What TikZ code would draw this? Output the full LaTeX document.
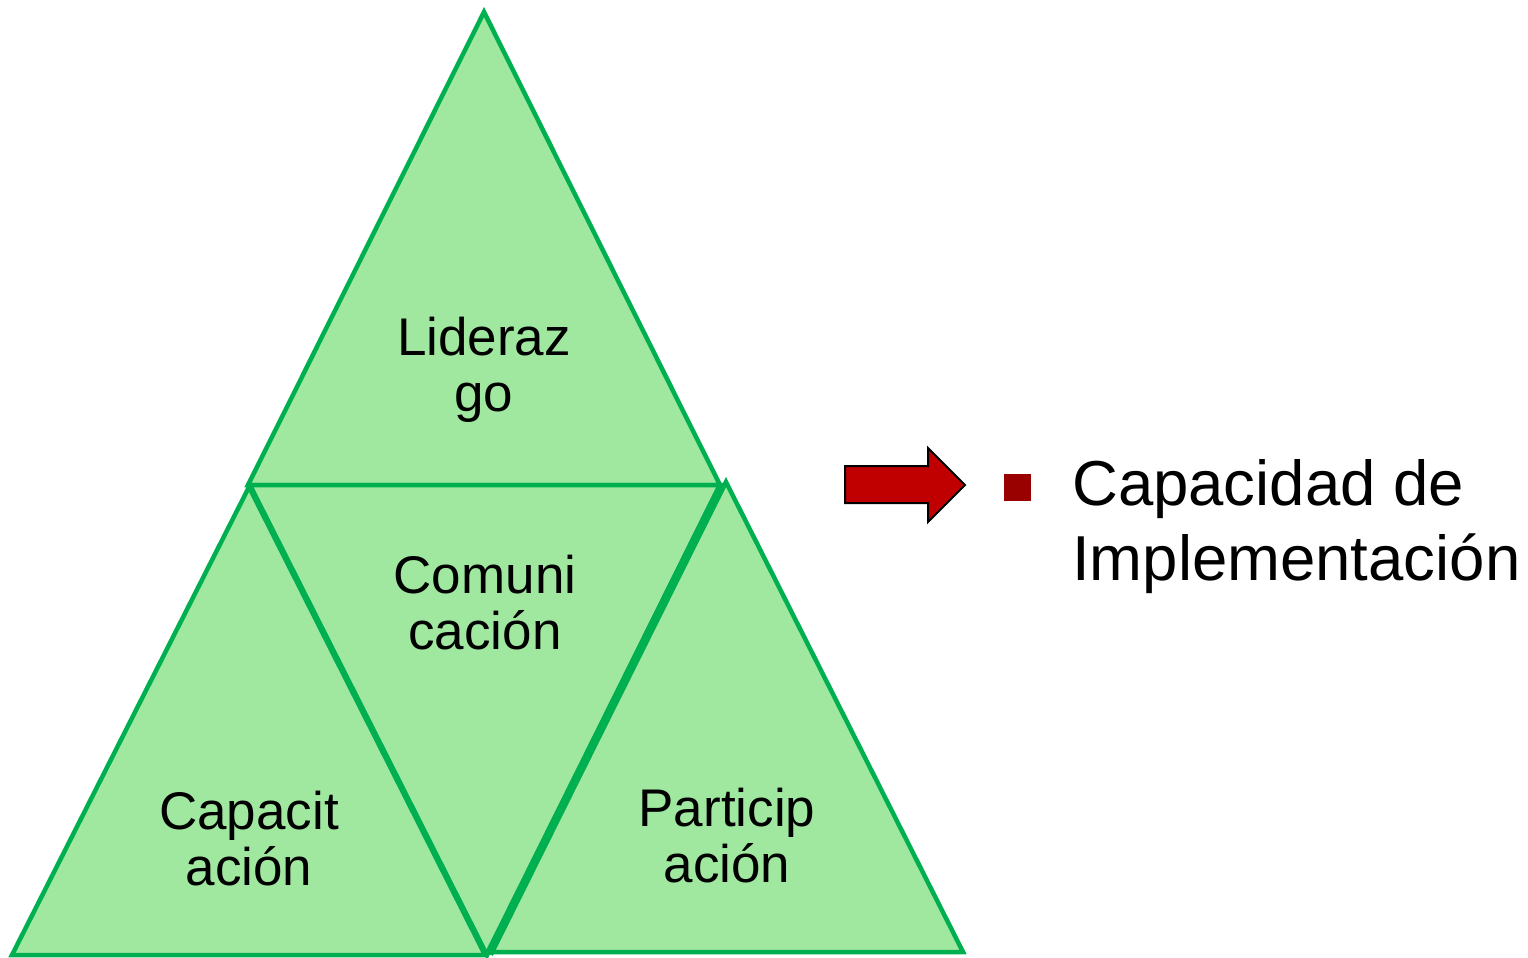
\documentclass[tikz,border=0pt]{standalone}
\usepackage{fontspec}
\setmainfont{Liberation Sans}
\definecolor{trifill}{HTML}{A0E8A0}
\definecolor{tridraw}{HTML}{00B050}
\definecolor{arrred}{HTML}{C00000}
\definecolor{bulred}{HTML}{990000}
\begin{document}
\begin{tikzpicture}[x=1pt,y=-1pt,
  tri/.style={fill=trifill,draw=tridraw,line width=4.5pt,line join=miter},
  lbl/.style={align=center,font=\fontsize{53}{56}\selectfont,inner sep=0pt},
  big/.style={align=left,font=\fontsize{63.5}{75}\selectfont,inner sep=0pt,anchor=base west}]
\useasboundingbox (0,0) rectangle (1528,958);
% triangles
\draw[tri] (484,12) -- (720,485) -- (248,485) -- cycle;
\draw[tri] (249,487) -- (485,955) -- (12,955) -- cycle;
\draw[tri] (250,485) -- (720,485) -- (487,955) -- cycle;
\draw[tri] (726,482) -- (963,952) -- (491,952) -- cycle;
\coordinate (s1) at (722,485);
\coordinate (s2) at (489,954);
\draw[draw=tridraw,line width=8.5pt] (s1) -- (s2);
% labels
\node[lbl] (lid) at (484,370) {Lideraz\\go};
\node[lbl] (com) at (485,603) {Comuni\\cación};
\node[lbl] (cap) at (249,839) {Capacit\\ación};
\node[lbl] (par) at (727,836) {Particip\\ación};
% block arrow
\draw[fill=arrred,draw=black,line width=2pt,line join=miter]
  (845,466) -- (928,466) -- (928,448) -- (965,485) -- (928,522) -- (928,503) -- (845,503) -- cycle;
% bullet
\fill[bulred] (1004,474) rectangle (1031,501);
\node[big] (t1) at (1072,505) {Capacidad de};
\node[big] (t2) at (1072,580) {Implementación};
\end{tikzpicture}
\end{document}
